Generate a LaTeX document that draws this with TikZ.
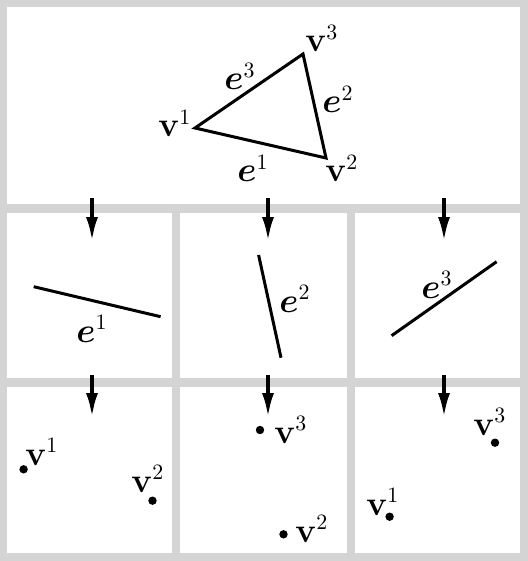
\documentclass[tikz,border=0pt]{standalone}
\usepackage{amsmath, amssymb}
\usepackage{tikz}
\usetikzlibrary{positioning, arrows.meta}
\definecolor{framegray}{RGB}{212,212,212}

\begin{document}
\begin{tikzpicture}[
  x=0.5pt, y=-0.5pt,
  font=\fontsize{16}{19}\selectfont,
  panel/.style={fill=white},
  lbl/.style={inner sep=0pt, anchor=base west},
  edge/.style={line width=1.5pt},
  pt/.style={circle, fill=black, inner sep=0pt, minimum size=4.2pt},
  down/.style={-{Latex[length=12.5pt, width=6pt]}, line width=2pt},
]
  \fill[framegray] (0,0) rectangle (528,561);
  \fill[panel] (7,7) rectangle (520,204);
  \fill[panel] (7,213) rectangle (172,378);
  \fill[panel] (180,213) rectangle (347,378);
  \fill[panel] (355,213) rectangle (520,378);
  \fill[panel] (7,387) rectangle (172,553);
  \fill[panel] (180,387) rectangle (347,553);
  \fill[panel] (355,387) rectangle (520,553);

  \coordinate (v1) at (195,128);
  \coordinate (v2) at (326,158);
  \coordinate (v3) at (303,54);
  \draw[edge] (v1) -- (v2) -- (v3) -- cycle;
  \node[lbl] (lv1) at (158,137) {$\mathbf{v}^1$};
  \node[lbl] (lv2) at (325,182) {$\mathbf{v}^2$};
  \node[lbl] (lv3) at (305,52) {$\mathbf{v}^3$};
  \node[lbl] (le1) at (237,182) {$\boldsymbol{e}^1$};
  \node[lbl] (le2) at (322,113) {$\boldsymbol{e}^2$};
  \node[lbl] (le3) at (224,90) {$\boldsymbol{e}^3$};

  \coordinate (e1a) at (33.7,286.7);
  \coordinate (e1b) at (160.6,316.7);
  \coordinate (e2a) at (258.6,255);
  \coordinate (e2b) at (281,357.7);
  \coordinate (e3a) at (391.6,335.7);
  \coordinate (e3b) at (496.6,261.7);
  \draw[edge] (e1a) -- (e1b);
  \draw[edge] (e2a) -- (e2b);
  \draw[edge] (e3a) -- (e3b);
  \node[lbl] (me1) at (76,342) {$\boldsymbol{e}^1$};
  \node[lbl] (me2) at (279,312) {$\boldsymbol{e}^2$};
  \node[lbl] (me3) at (421,298) {$\boldsymbol{e}^3$};

  \node[pt] (p11) at (23.6,469.3) {};
  \node[pt] (p12) at (152.5,500.7) {};
  \node[pt] (p23) at (260,430) {};
  \node[pt] (p22) at (283.5,534.3) {};
  \node[pt] (p31) at (389.6,516.7) {};
  \node[pt] (p33) at (495,442.7) {};
  \node[lbl] (lp11) at (25,465) {$\mathbf{v}^1$};
  \node[lbl] (lp12) at (131,492) {$\mathbf{v}^2$};
  \node[lbl] (lp23) at (274,443) {$\mathbf{v}^3$};
  \node[lbl] (lp22) at (295,542) {$\mathbf{v}^2$};
  \node[lbl] (lp31) at (366,515) {$\mathbf{v}^1$};
  \node[lbl] (lp33) at (473,435) {$\mathbf{v}^3$};

  \coordinate (a1s) at (92,198);
  \coordinate (a1e) at (92,242);
  \coordinate (a2s) at (268,198);
  \coordinate (a2e) at (268,242);
  \coordinate (a3s) at (444,198);
  \coordinate (a3e) at (444,242);
  \coordinate (b1s) at (92,375);
  \coordinate (b1e) at (92,418);
  \coordinate (b2s) at (268,375);
  \coordinate (b2e) at (268,418);
  \coordinate (b3s) at (444,375);
  \coordinate (b3e) at (444,418);
  \draw[down] (a1s) -- (a1e);
  \draw[down] (a2s) -- (a2e);
  \draw[down] (a3s) -- (a3e);
  \draw[down] (b1s) -- (b1e);
  \draw[down] (b2s) -- (b2e);
  \draw[down] (b3s) -- (b3e);
\end{tikzpicture}
\end{document}
